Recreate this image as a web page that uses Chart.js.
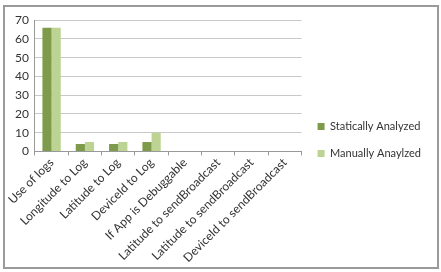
<!DOCTYPE html>
<html>
<head>
<meta charset="utf-8">
<script src="https://cdn.jsdelivr.net/npm/chart.js@4/dist/chart.umd.min.js"></script>
<style>
  html, body { margin: 0; padding: 0; background: #fff; }
  #frame {
    position: absolute; left: 3px; top: 5px; width: 432px; height: 260px;
    border: 2px solid #9a9a9a; background: #fff;
  }
  #wrap { position: absolute; left: 0; top: 0; width: 432px; height: 260px; }
</style>
</head>
<body>
<div id="frame"><div id="wrap"><canvas id="grafica"></canvas></div></div>
<script>
// datos
const categorias = ["Use of logs", "Longitude to Log", "Latitude to Log", "DeviceId to Log",
  "If App is Debuggable", "Latitude to sendBroadcast", "Latitude to sendBroadcast", "DeviceId to sendBroadcast"];
const estatico = [66, 4, 4, 5, 0, 0, 0, 0];
const manual = [66, 5, 5, 10, 0, 0, 0, 0];
const ticksY = [0, 10, 20, 30, 40, 50, 60, 70];

const fuente = { family: 'Lato', size: 12 };

const ctx = document.getElementById('grafica').getContext('2d');
new Chart(ctx, {
  type: 'bar',
  data: {
    labels: categorias,
    datasets: [
      { label: 'Statically Analyzed', data: estatico, backgroundColor: '#7d9b4a' },
      { label: 'Manually Anaylzed', data: manual, backgroundColor: '#bcd393' }
    ]
  },
  options: {
    responsive: true,
    maintainAspectRatio: false,
    animation: false,
    layout: { padding: { top: 8, left: 4, right: 6, bottom: 2 } },
    datasets: { bar: { barPercentage: 1, categoryPercentage: 0.55 } },
    plugins: {
      legend: {
        position: 'right',
        maxWidth: 200,
        labels: {
          boxWidth: 7, boxHeight: 7, padding: 16,
          color: '#333', font: { family: 'Lato', size: 11 }
        }
      },
      tooltip: { enabled: false }
    },
    scales: {
      x: {
        grid: { display: true, drawOnChartArea: false, drawTicks: true, tickLength: 4, color: '#999' },
        border: { color: '#999' },
        ticks: { maxRotation: 45, minRotation: 45, color: '#333', font: fuente, padding: 0 }
      },
      y: {
        min: 0, max: 70,
        afterBuildTicks: (ax) => { ax.ticks = ticksY.map(v => ({ value: v })); },
        grid: { color: '#c8c8c8', drawTicks: false },
        border: { color: '#999' },
        ticks: { color: '#333', font: fuente, padding: 6 }
      }
    }
  }
});
</script>
</body>
</html>
